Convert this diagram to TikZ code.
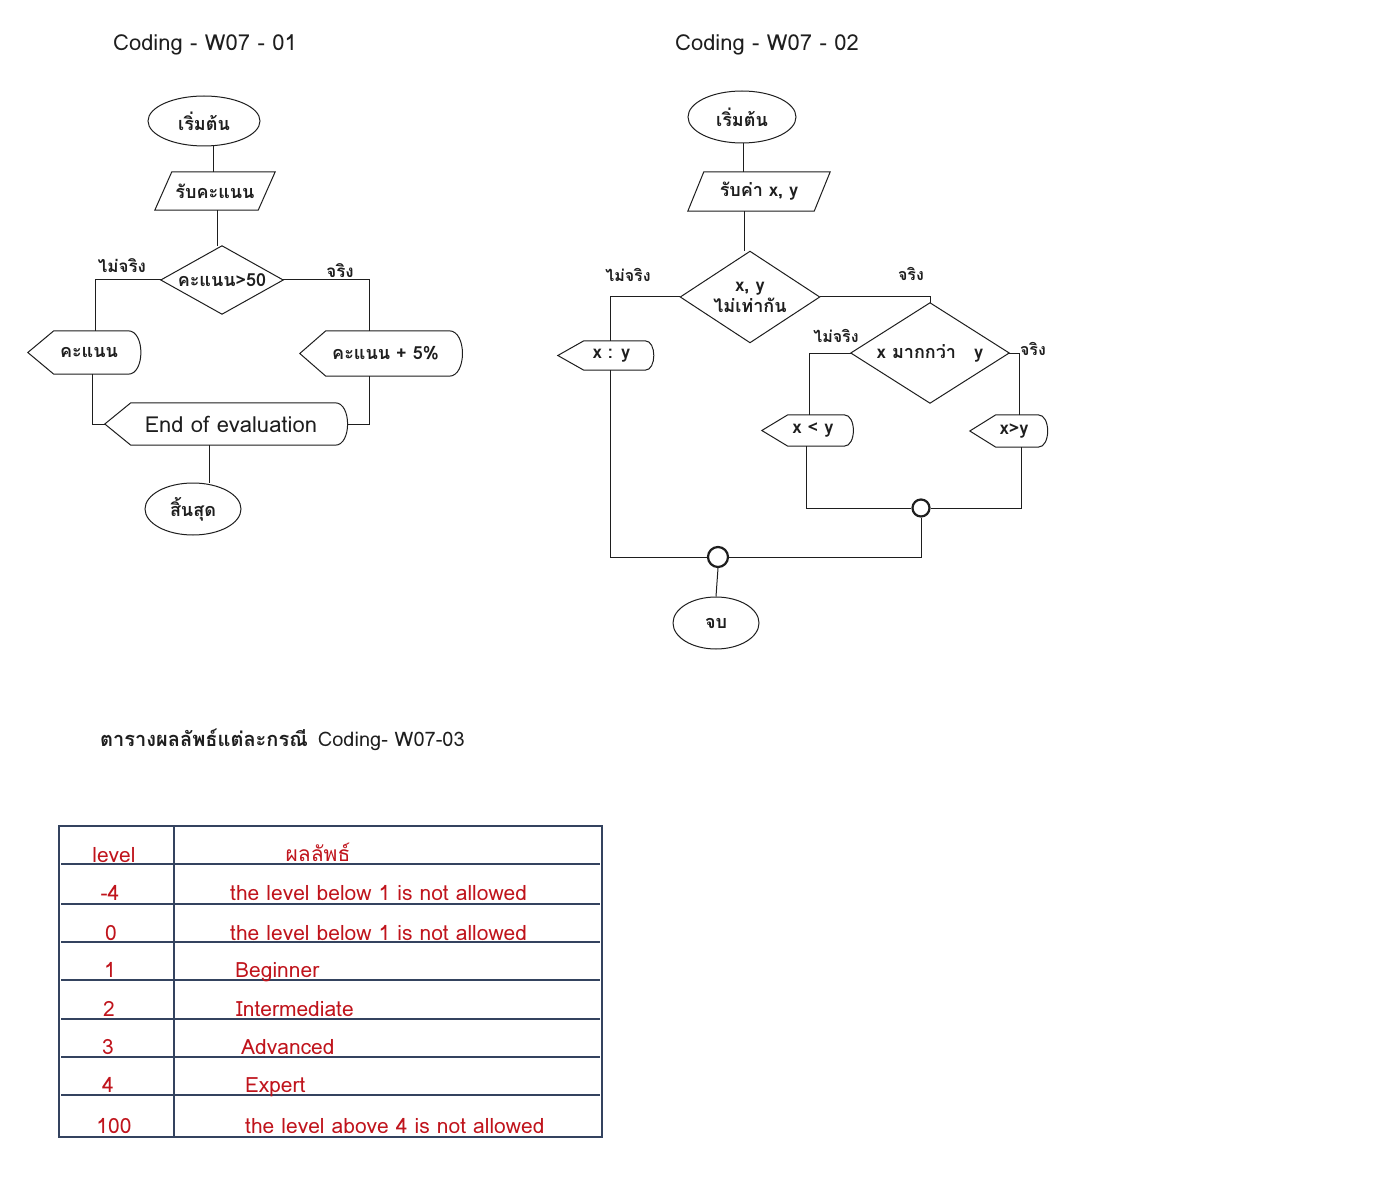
\documentclass[tikz,border=0pt]{standalone}
\usepackage{fontspec}
\setmainfont[Script=Thai]{Loma}
\usetikzlibrary{shapes.geometric}
\definecolor{ink}{HTML}{1E1E1E}
\definecolor{redink}{HTML}{C0141C}
\definecolor{gridc}{HTML}{34435F}
\tikzset{
  every node/.style={text=ink, inner sep=0pt},
  box/.style={draw=none, inner sep=0pt},
  termbox/.style={ellipse, draw=ink, line width=1pt, inner sep=0pt},
  link/.style={draw=ink, line width=1pt},
  outline/.style={draw=ink, line width=1pt},
  thaib/.style={font=\fontsize{18}{21}\selectfont\bfseries},
  lab/.style={font=\fontsize{17}{19}\selectfont\bfseries},
  labs/.style={font=\fontsize{16}{18}\selectfont\bfseries},
  ttl/.style={font=\fontsize{22}{24}\selectfont},
  ttlb/.style={font=\fontsize{20}{22}\selectfont},
  tabtxt/.style={font=\fontsize{21}{23}\selectfont, text=redink},
  junc/.style={circle, draw=ink, line width=2.2pt, fill=white, inner sep=0pt},
  gridline/.style={draw=gridc, line width=1.2pt},
}
\newcommand\dispshape[1]{\draw[outline] (#1.west) -- ([xshift=26pt]#1.north west) -- ([xshift=-12pt]#1.north east) to[out=0,in=0] ([xshift=-12pt]#1.south east) -- ([xshift=26pt]#1.south west) -- cycle;}
\newcommand\slantshape[2]{\draw[outline] (#1.south west) -- ([xshift=#2]#1.north west) -- (#1.north east) -- ([xshift=-#2]#1.south east) -- cycle;}
\newcommand\rhombshape[1]{\draw[outline] (#1.north) -- (#1.east) -- (#1.south) -- (#1.west) -- cycle;}
\begin{document}
\begin{tikzpicture}[x=1pt,y=-1pt]
\fill[white] (0,0) rectangle (1376,1190);
\useasboundingbox (0,0) rectangle (1376,1190);

% titles
\node[ttl] (t1) at (205,45) {Coding - W07 - 01};
\node[ttl] (t2) at (767,45) {Coding - W07 - 02};
\node[ttlb, anchor=west] (t3) at (100,740) {\bfseries ตารางผลลัพธ์แต่ละกรณี\enspace\mdseries Coding- W07-03};

% ---------- left flowchart ----------
\node[termbox, minimum width=112pt, minimum height=50pt, thaib] (eA) at (204,121) {เริ่มต้น};
\node[box, minimum width=120pt, minimum height=38pt, thaib] (pA) at (215,191) {รับคะแนน};
\node[box, minimum width=122pt, minimum height=68pt, thaib] (qA) at (222,280) {คะแนน>50};
\node[box, minimum width=112pt, minimum height=43pt, thaib] (dA) at (84,352.5) {\hspace*{10pt}คะแนน};
\node[box, minimum width=161pt, minimum height=45pt, thaib] (dB) at (380.5,353.5) {\hspace*{10pt}คะแนน + 5\%};
\node[box, minimum width=242pt, minimum height=42pt, font=\fontsize{22}{24}\selectfont] (dC) at (226,424) {\hspace*{10pt}End of evaluation};
\node[termbox, minimum width=96pt, minimum height=52pt, thaib] (eB) at (193,509) {สิ้นสุด};
\node[lab] (lA1) at (122,266) {ไม่จริง};
\node[lab] (lA2) at (340,271) {จริง};
\slantshape{pA}{17pt}
\rhombshape{qA}
\dispshape{dA}
\dispshape{dB}
\dispshape{dC}

\draw[link] ([xshift=9pt]eA.south) -- ([xshift=-2pt]pA.north);
\draw[link] ([xshift=2pt]pA.south) -- ([xshift=-5pt]qA.north);
\draw[link] (qA.west) -| ([xshift=11pt]dA.north);
\draw[link] (qA.east) -| ([xshift=-11pt]dB.north);
\draw[link] ([xshift=8pt]dA.south) |- (dC.west);
\draw[link] ([xshift=-11pt]dB.south) |- (dC.east);
\draw[link] ([xshift=-17pt]dC.south) -- ([xshift=16pt]eB.north);

% ---------- right flowchart ----------
\node[termbox, minimum width=108pt, minimum height=52pt, thaib] (eC) at (742,117) {เริ่มต้น};
\node[box, minimum width=142pt, minimum height=39pt, thaib] (pB) at (759,191.5) {รับค่า x, y};
\node[box, minimum width=139pt, minimum height=91pt, thaib, align=center] (qB) at (750,297) {x, y\\ไม่เท่ากัน};
\node[box, minimum width=158pt, minimum height=100pt, thaib] (qC) at (930,353) {x มากกว่า\quad y};
\node[box, minimum width=99pt, minimum height=29pt, thaib] (dD) at (607.5,355.5) {\hspace*{8pt}x : y};
\node[box, minimum width=94pt, minimum height=31pt, thaib] (dE) at (809,430.5) {\hspace*{8pt}x < y};
\node[box, minimum width=80pt, minimum height=32pt, thaib] (dF) at (1010,431) {\hspace*{8pt}x>y};
\node[termbox, minimum width=86pt, minimum height=52pt, thaib] (eD) at (716,623) {จบ};
\node[labs] (lB1) at (628,275) {ไม่จริง};
\node[labs] (lB2) at (911,274) {จริง};
\node[labs] (lB3) at (836,336) {ไม่จริง};
\node[labs] (lB4) at (1033,349) {จริง};
\slantshape{pB}{16pt}
\rhombshape{qB}
\rhombshape{qC}
\dispshape{dD}
\dispshape{dE}
\dispshape{dF}

\draw[link] ([xshift=1pt]eC.south) -- ([xshift=-16pt]pB.north);
\draw[link] ([xshift=-15pt]pB.south) -- ([xshift=-6pt]qB.north);
\draw[link] (qB.west) -| ([xshift=3pt]dD.north);
\draw[link] (qB.east) -| (qC.north);
\draw[link] (qC.west) -| (dE.north);
\draw[link] (qC.east) -| ([xshift=9pt]dF.north);
\node[junc, minimum size=17pt] (cA) at (921,508) {};
\node[junc, minimum size=20pt] (cB) at (718,557) {};
\draw[link] ([xshift=-3pt]dE.south) |- (cA.west);
\draw[link] ([xshift=11pt]dF.south) |- (cA.east);
\draw[link] (cA.south) |- (cB.east);
\draw[link] ([xshift=3pt]dD.south) |- (cB.west);
\draw[link] (cB.south) -- (eD.north);

% ---------- table ----------
\draw[gridline] (59,826) rectangle (602,1137);
\draw[gridline] (174,826) -- (174,1137);
\foreach \yy in {864,904,942,980,1019,1057,1095}
  \draw[gridline] (61,\yy) -- (600,\yy);

\node[tabtxt, anchor=base] (h1) at (114,862) {level};
\node[tabtxt, anchor=base] (h2) at (318,861) {ผลลัพธ์};
\node[tabtxt, anchor=base] (l1) at (110,900) {-4};
\node[tabtxt, anchor=base] (l2) at (111,940) {0};
\node[tabtxt, anchor=base] (l3) at (110,977) {1};
\node[tabtxt, anchor=base] (l4) at (109,1016) {2};
\node[tabtxt, anchor=base] (l5) at (108,1054) {3};
\node[tabtxt, anchor=base] (l6) at (108,1092) {4};
\node[tabtxt, anchor=base] (l7) at (114,1133) {100};
\node[tabtxt, anchor=base west] (r1) at (230,900) {the level below 1 is not allowed};
\node[tabtxt, anchor=base west] (r2) at (230,940) {the level below 1 is not allowed};
\node[tabtxt, anchor=base west] (r3) at (235,977) {Beginner};
\node[tabtxt, anchor=base west] (r4) at (236,1016) {Intermediate};
\node[tabtxt, anchor=base west] (r5) at (241,1054) {Advanced};
\node[tabtxt, anchor=base west] (r6) at (245,1092) {Expert};
\node[tabtxt, anchor=base west] (r7) at (245,1133) {the level above 4 is not allowed};
\end{tikzpicture}
\end{document}
